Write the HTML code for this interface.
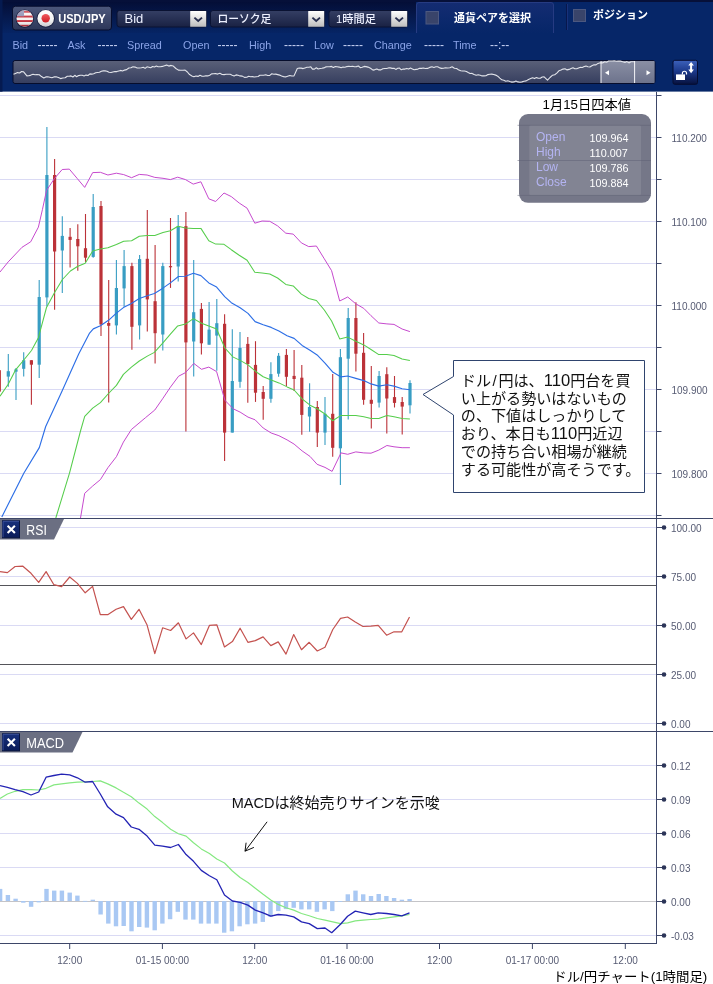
<!DOCTYPE html>
<html lang="ja"><head><meta charset="utf-8"><title>ドル/円チャート(1時間足)</title>
<style>
html,body{margin:0;padding:0;background:#fff;}
body{width:713px;height:984px;overflow:hidden;position:relative;font-family:"Liberation Sans","Noto Sans CJK JP",sans-serif;}
svg{position:absolute;left:0;top:0;display:block;}
text{font-family:"Liberation Sans","Noto Sans CJK JP",sans-serif;}
.ax{font-size:10px;fill:#565b73;}
.jp{font-family:"Liberation Sans","Noto Sans CJK JP",sans-serif;}
</style></head><body>
<svg width="713" height="984" viewBox="0 0 713 984">
<defs>
<linearGradient id="hdr" x1="0" y1="0" x2="0" y2="1"><stop offset="0" stop-color="#040d34"/><stop offset="1" stop-color="#062464"/></linearGradient>
<linearGradient id="btn" x1="0" y1="0" x2="0" y2="1"><stop offset="0" stop-color="#4d587c"/><stop offset="1" stop-color="#2d3759"/></linearGradient>
<linearGradient id="sel" x1="0" y1="0" x2="0" y2="1"><stop offset="0" stop-color="#353f64"/><stop offset="1" stop-color="#192143"/></linearGradient>
<linearGradient id="arr" x1="0" y1="0" x2="0" y2="1"><stop offset="0" stop-color="#ffffff"/><stop offset="1" stop-color="#bdbdbd"/></linearGradient>
<linearGradient id="nav" x1="0" y1="0" x2="0" y2="1"><stop offset="0" stop-color="#5a6079"/><stop offset="1" stop-color="#363e5f"/></linearGradient>
<linearGradient id="navs" x1="0" y1="0" x2="0" y2="1"><stop offset="0" stop-color="#8a8fa4"/><stop offset="1" stop-color="#6d738c"/></linearGradient>
<linearGradient id="lock" x1="0" y1="0" x2="0" y2="1"><stop offset="0" stop-color="#3c61bb"/><stop offset="0.45" stop-color="#1d3a8c"/><stop offset="1" stop-color="#06113e"/></linearGradient>
<linearGradient id="xb" x1="0" y1="0" x2="0" y2="1"><stop offset="0" stop-color="#17307c"/><stop offset="1" stop-color="#0a1b58"/></linearGradient>
<linearGradient id="tab" x1="0" y1="0" x2="0" y2="1"><stop offset="0" stop-color="#142c72"/><stop offset="1" stop-color="#062668"/></linearGradient>
<clipPath id="usc"><circle cx="24.8" cy="18.5" r="8.3"/></clipPath>
<linearGradient id="gloss" x1="0" y1="0" x2="0" y2="1"><stop offset="0" stop-color="#ffffff" stop-opacity="0.25"/><stop offset="0.5" stop-color="#ffffff" stop-opacity="0"/><stop offset="1" stop-color="#000000" stop-opacity="0.22"/></linearGradient>
<linearGradient id="jpw" x1="0" y1="0" x2="0" y2="1"><stop offset="0" stop-color="#ffffff"/><stop offset="0.6" stop-color="#f2f2f2"/><stop offset="1" stop-color="#c9c9cf"/></linearGradient>
<linearGradient id="jpr" x1="0" y1="0" x2="0" y2="1"><stop offset="0" stop-color="#f0595c"/><stop offset="1" stop-color="#cf1d26"/></linearGradient>
<clipPath id="main"><rect x="0" y="92" width="656.5" height="426.5"/></clipPath>
</defs>
<rect x="0" y="0" width="713" height="91.6" fill="#062668"/>
<rect x="0" y="0" width="416" height="33" fill="url(#hdr)"/>
<rect x="0" y="0" width="713" height="2" fill="#061039"/>
<rect x="0" y="0" width="2.5" height="91.6" fill="#051a50"/>
<rect x="12.5" y="6.2" width="99" height="23.8" rx="3" fill="url(#btn)" stroke="#060d2c" stroke-width="1"/>
<circle cx="24.8" cy="18.7" r="9.2" fill="#1b2243"/>
<g clip-path="url(#usc)"><rect x="16" y="10" width="18" height="18" fill="#f6f2f2"/>
<rect x="16" y="10.8" width="18" height="1.9" fill="#c52f3c"/>
<rect x="16" y="15.6" width="18" height="1.9" fill="#c52f3c"/>
<rect x="16" y="20.1" width="18" height="1.9" fill="#c52f3c"/>
<rect x="16" y="24.8" width="18" height="1.9" fill="#c52f3c"/>
<rect x="16" y="10" width="8" height="6.3" fill="#8f90b4"/>
<rect x="16" y="10" width="18" height="18" fill="url(#gloss)"/></g>
<circle cx="45.7" cy="18.6" r="9.2" fill="#1b2243"/>
<circle cx="45.7" cy="18.4" r="8.3" fill="url(#jpw)"/>
<circle cx="45.7" cy="18.3" r="4.2" fill="url(#jpr)"/>
<text x="58.2" y="22.6" font-size="12" font-weight="bold" fill="#ffffff" textLength="47.5" lengthAdjust="spacingAndGlyphs">USD/JPY</text>
<rect x="117.0" y="10.5" width="89.5" height="16.5" rx="2.5" fill="url(#sel)" stroke="#0a1232" stroke-width="1"/>
<rect x="190.2" y="11" width="16" height="15.8" rx="0.5" fill="url(#arr)"/>
<path d="M194.4 17.6 L198.2 21 L202.0 17.6" fill="none" stroke="#262d4e" stroke-width="1.9"/>
<text x="124.5" y="23.2" font-size="13" font-weight="500" fill="#eef1ff">Bid</text>
<rect x="210.5" y="10.5" width="114.0" height="16.5" rx="2.5" fill="url(#sel)" stroke="#0a1232" stroke-width="1"/>
<rect x="308.2" y="11" width="16" height="15.8" rx="0.5" fill="url(#arr)"/>
<path d="M312.4 17.6 L316.2 21 L320.0 17.6" fill="none" stroke="#262d4e" stroke-width="1.9"/>
<text x="217.4" y="23.2" font-size="11.5" font-weight="500" fill="#eef1ff" textLength="54" lengthAdjust="spacingAndGlyphs">ローソク足</text>
<rect x="329.0" y="10.5" width="78.5" height="16.5" rx="2.5" fill="url(#sel)" stroke="#0a1232" stroke-width="1"/>
<rect x="391.2" y="11" width="16" height="15.8" rx="0.5" fill="url(#arr)"/>
<path d="M395.4 17.6 L399.2 21 L403.0 17.6" fill="none" stroke="#262d4e" stroke-width="1.9"/>
<text x="336.0" y="23.2" font-size="11.5" font-weight="500" fill="#eef1ff" textLength="40" lengthAdjust="spacingAndGlyphs">1時間足</text>
<path d="M416.5 33 V5 Q416.5 2.5 419 2.5 H551 Q553.5 2.5 553.5 5 V33" fill="url(#tab)" stroke="#263b82" stroke-width="1"/>
<rect x="426" y="11.5" width="12.5" height="12.5" fill="#39446a" stroke="#4c5880" stroke-width="1"/>
<text x="454" y="22" font-size="11" font-weight="bold" fill="#ffffff" textLength="77" lengthAdjust="spacingAndGlyphs">通貨ペアを選択</text>
<line x1="566.5" y1="4" x2="566.5" y2="30" stroke="#07174c" stroke-width="1"/>
<line x1="567.5" y1="4" x2="567.5" y2="30" stroke="#18317a" stroke-width="1"/>
<rect x="573.5" y="9.5" width="12" height="12" fill="#39446a" stroke="#4c5880" stroke-width="1"/>
<text x="593" y="19" font-size="11" font-weight="bold" fill="#ffffff" textLength="55" lengthAdjust="spacingAndGlyphs">ポジション</text>
<text x="12.5" y="49" font-size="10.8" fill="#8ba4e8">Bid</text>
<text x="37.5" y="49" font-size="12" fill="#cdd7f8">-----</text>
<text x="67.5" y="49" font-size="10.8" fill="#8ba4e8">Ask</text>
<text x="97.5" y="49" font-size="12" fill="#cdd7f8">-----</text>
<text x="127.0" y="49" font-size="10.8" fill="#8ba4e8">Spread</text>
<text x="183.0" y="49" font-size="10.8" fill="#8ba4e8">Open</text>
<text x="217.5" y="49" font-size="12" fill="#cdd7f8">-----</text>
<text x="249.0" y="49" font-size="10.8" fill="#8ba4e8">High</text>
<text x="284.0" y="49" font-size="12" fill="#cdd7f8">-----</text>
<text x="314.0" y="49" font-size="10.8" fill="#8ba4e8">Low</text>
<text x="343.0" y="49" font-size="12" fill="#cdd7f8">-----</text>
<text x="374.0" y="49" font-size="10.8" fill="#8ba4e8">Change</text>
<text x="424.0" y="49" font-size="12" fill="#cdd7f8">-----</text>
<text x="453.0" y="49" font-size="10.8" fill="#8ba4e8">Time</text>
<text x="490.0" y="49" font-size="12" fill="#cdd7f8">--:--</text>
<rect x="13" y="60.5" width="642" height="23" rx="2" fill="url(#nav)" stroke="#060d2c" stroke-width="1"/>
<rect x="601" y="61" width="53.5" height="22" fill="url(#navs)"/>
<polyline points="13.5,74.2 15.5,73.4 17.5,72.6 19.6,73.0 21.6,71.5 23.6,71.8 26.9,75.9 28.9,75.7 30.9,75.1 33.0,74.3 35.0,74.8 37.0,74.5 39.3,74.8 41.5,76.6 43.8,77.9 45.8,76.9 47.8,76.8 49.9,77.2 51.9,77.7 53.9,76.9 56.1,76.8 58.4,77.5 60.6,78.6 62.8,78.0 65.1,77.8 67.3,76.2 69.2,76.3 71.0,75.9 72.9,77.0 74.8,75.3 76.6,76.7 78.5,75.6 80.4,75.3 82.2,75.2 84.1,75.9 86.0,75.1 88.0,75.5 89.9,73.9 91.8,74.1 93.7,73.7 95.7,72.8 97.6,72.5 99.5,72.3 101.4,71.2 103.2,70.9 105.1,70.9 107.0,71.2 109.0,72.2 111.0,72.5 112.9,72.0 114.9,71.5 116.8,71.6 118.7,71.0 120.6,70.4 122.6,71.0 124.5,70.1 126.6,69.6 128.8,68.0 130.9,67.8 133.0,66.8 135.1,67.1 137.2,68.0 139.3,68.0 141.4,67.8 143.3,67.3 145.1,68.4 147.0,66.8 148.9,67.2 150.7,67.7 152.6,66.5 154.5,67.0 156.3,66.1 158.2,66.8 160.3,66.7 162.4,66.4 164.5,65.7 166.6,65.1 168.8,66.1 171.1,65.4 173.3,66.1 175.9,68.5 178.4,70.1 180.6,70.3 182.9,70.2 185.1,70.1 187.4,72.0 189.6,74.6 191.9,75.9 193.9,76.8 195.9,76.0 198.0,76.4 200.0,75.3 202.0,76.2 203.9,76.2 205.8,75.7 207.7,75.9 209.7,75.2 211.6,73.9 213.5,73.7 215.4,73.5 217.6,74.1 219.9,73.3 222.1,74.5 224.1,74.6 226.1,74.2 228.2,74.2 230.2,74.3 232.2,75.2 234.1,75.9 236.1,74.9 238.1,75.3 240.0,75.9 242.3,76.1 244.5,77.4 246.8,77.2 248.7,76.2 250.6,76.7 252.4,76.6 254.3,77.0 256.2,76.7 258.1,76.5 259.9,75.2 261.8,75.3 263.7,75.2 265.7,74.7 267.7,75.5 269.8,75.4 271.8,73.8 273.8,74.2 275.8,74.1 277.7,74.6 279.6,75.1 281.6,76.0 283.6,76.6 285.5,76.9 287.6,76.2 289.8,75.5 291.9,76.0 294.0,75.9 297.3,68.5 299.2,68.0 301.2,68.1 303.1,68.6 305.0,67.9 306.9,67.3 308.9,67.3 310.8,66.8 312.5,69.1 314.4,69.1 316.3,67.7 318.2,69.0 320.1,68.5 321.9,68.3 323.8,67.9 325.7,66.9 327.6,66.8 329.5,66.8 331.5,66.4 333.4,67.5 335.3,66.6 337.2,66.7 339.2,67.1 341.1,67.8 343.0,67.0 344.9,67.2 346.8,66.6 348.8,66.3 350.7,66.5 352.6,66.2 354.5,66.8 356.4,66.6 358.4,66.0 360.3,67.6 362.2,67.2 364.1,66.4 366.1,66.6 368.0,67.1 370.5,68.3 373.0,70.1 375.0,69.6 376.9,68.9 378.9,69.9 380.9,69.9 382.8,68.7 384.8,68.5 386.6,68.5 388.5,67.9 390.3,67.9 392.1,68.4 394.0,68.3 395.8,69.4 397.7,68.3 399.5,68.1 401.3,69.8 403.2,69.1 405.0,69.1 406.8,68.4 408.7,69.1 410.5,68.1 412.3,68.9 414.2,69.7 416.0,69.4 417.9,69.1 419.7,68.2 421.5,68.4 423.4,68.0 425.2,68.5 427.5,68.4 429.7,67.4 432.0,66.8 433.9,67.4 435.8,66.8 437.7,66.7 439.7,67.9 441.6,68.4 443.5,68.3 445.4,67.8 447.6,68.0 449.9,67.7 452.1,66.8 454.4,68.3 456.6,68.5 458.9,70.1 460.8,70.7 462.6,71.0 464.5,71.0 466.4,71.5 468.2,72.5 470.1,73.5 472.1,73.4 474.1,74.5 476.2,75.3 478.2,74.8 480.2,75.2 482.1,75.9 484.1,75.9 486.0,75.7 487.9,74.6 489.8,74.2 491.8,74.1 493.7,74.5 495.7,75.1 497.7,76.2 499.8,78.1 501.8,79.8 503.8,80.2 505.8,81.2 507.8,80.8 509.9,81.5 511.9,82.1 513.9,81.9 515.9,81.0 517.9,81.9 520.0,82.3 522.0,81.9 524.0,81.3 526.2,80.9 528.5,79.5 530.7,78.6 532.6,77.8 534.5,78.6 536.4,77.6 538.4,78.2 540.3,78.2 542.2,77.0 544.1,76.9 547.5,80.2 550.0,77.5 552.6,75.2 554.7,74.7 556.8,73.1 558.9,70.8 561.0,70.1 563.0,69.1 565.0,68.8 567.1,69.9 569.1,69.4 571.1,68.5 573.0,67.7 574.8,68.7 576.7,68.8 578.6,68.0 580.4,67.3 582.3,67.5 584.2,66.5 586.0,66.1 587.9,66.8 589.9,67.0 591.9,65.7 594.0,64.8 596.0,64.9 598.0,63.4 600.2,62.7 602.5,62.9 604.7,61.7 606.6,62.2 608.6,61.0 610.5,61.0 612.4,61.0 614.3,60.8 616.3,61.3 618.2,61.1 620.4,61.1 622.7,61.8 624.9,62.4 626.9,61.6 628.9,62.9 631.0,61.7 633.0,61.8 635.0,61.7" fill="none" stroke="#e2e4ea" stroke-width="1.1" stroke-linejoin="round"/>
<line x1="601" y1="61" x2="601" y2="83" stroke="#f4f4f8" stroke-width="1"/>
<line x1="634.6" y1="61" x2="634.6" y2="83" stroke="#f4f4f8" stroke-width="1"/>
<path d="M605 72.8 L609 70.3 V75.3 Z" fill="#ffffff"/>
<path d="M650.5 72.8 L646.5 70.3 V75.3 Z" fill="#ffffff"/>
<rect x="673" y="60.3" width="24.5" height="24" rx="1.8" fill="url(#lock)" stroke="#050c30" stroke-width="1"/>
<rect x="676" y="74.4" width="9" height="5.6" fill="#ffffff"/>
<path d="M682.4 74.6 V73.3 A2.05 2.05 0 0 1 686.5 73.3 V74.6" fill="none" stroke="#ffffff" stroke-width="1.2"/>
<path d="M691.1 62 L693.9 65.6 H692.1 V69.6 H693.9 L691.1 73.2 L688.3 69.6 H690.1 V65.6 H688.3 Z" fill="#ffffff"/>
<line x1="0" y1="95.5" x2="656" y2="95.5" stroke="#dadaf4" stroke-width="1"/>
<line x1="0" y1="137.5" x2="656" y2="137.5" stroke="#dadaf4" stroke-width="1"/>
<line x1="0" y1="179.5" x2="656" y2="179.5" stroke="#dadaf4" stroke-width="1"/>
<line x1="0" y1="221.5" x2="656" y2="221.5" stroke="#dadaf4" stroke-width="1"/>
<line x1="0" y1="263.5" x2="656" y2="263.5" stroke="#dadaf4" stroke-width="1"/>
<line x1="0" y1="305.5" x2="656" y2="305.5" stroke="#dadaf4" stroke-width="1"/>
<line x1="0" y1="347.5" x2="656" y2="347.5" stroke="#dadaf4" stroke-width="1"/>
<line x1="0" y1="389.5" x2="656" y2="389.5" stroke="#dadaf4" stroke-width="1"/>
<line x1="0" y1="431.5" x2="656" y2="431.5" stroke="#dadaf4" stroke-width="1"/>
<line x1="0" y1="473.5" x2="656" y2="473.5" stroke="#dadaf4" stroke-width="1"/>
<line x1="0" y1="515.5" x2="656" y2="515.5" stroke="#dadaf4" stroke-width="1"/>
<line x1="0" y1="527.5" x2="656" y2="527.5" stroke="#dadaf4" stroke-width="1"/>
<line x1="0" y1="576.5" x2="656" y2="576.5" stroke="#dadaf4" stroke-width="1"/>
<line x1="0" y1="625.5" x2="656" y2="625.5" stroke="#dadaf4" stroke-width="1"/>
<line x1="0" y1="674.5" x2="656" y2="674.5" stroke="#dadaf4" stroke-width="1"/>
<line x1="0" y1="723.5" x2="656" y2="723.5" stroke="#dadaf4" stroke-width="1"/>
<line x1="0" y1="765.5" x2="656" y2="765.5" stroke="#dadaf4" stroke-width="1"/>
<line x1="0" y1="799.5" x2="656" y2="799.5" stroke="#dadaf4" stroke-width="1"/>
<line x1="0" y1="833.5" x2="656" y2="833.5" stroke="#dadaf4" stroke-width="1"/>
<line x1="0" y1="867.5" x2="656" y2="867.5" stroke="#dadaf4" stroke-width="1"/>
<line x1="0" y1="935.5" x2="656" y2="935.5" stroke="#dadaf4" stroke-width="1"/>
<line x1="0" y1="901.5" x2="656" y2="901.5" stroke="#c4c4c8" stroke-width="1"/>
<g clip-path="url(#main)">
<line x1="-0.7" y1="366.0" x2="-0.7" y2="395.0" stroke="#bb3238" stroke-width="1.1"/>
<rect x="-2.3" y="370.2" width="3.2" height="21.4" fill="#bb3238"/>
<line x1="8.3" y1="354.1" x2="8.3" y2="386.7" stroke="#389dc3" stroke-width="1.1"/>
<rect x="6.7" y="371.2" width="3.2" height="5.4" fill="#389dc3"/>
<line x1="16.0" y1="367.9" x2="16.0" y2="399.9" stroke="#389dc3" stroke-width="1.1"/>
<rect x="14.4" y="369.3" width="3.2" height="2.4" fill="#389dc3"/>
<line x1="23.7" y1="352.3" x2="23.7" y2="376.6" stroke="#389dc3" stroke-width="1.1"/>
<rect x="22.1" y="360.2" width="3.2" height="8.6" fill="#389dc3"/>
<line x1="31.4" y1="360.2" x2="31.4" y2="404.8" stroke="#bb3238" stroke-width="1.1"/>
<rect x="29.8" y="360.2" width="3.2" height="4.5" fill="#bb3238"/>
<line x1="39.2" y1="280.0" x2="39.2" y2="377.9" stroke="#389dc3" stroke-width="1.1"/>
<rect x="37.6" y="297.0" width="3.2" height="67.7" fill="#389dc3"/>
<line x1="46.9" y1="127.1" x2="46.9" y2="306.6" stroke="#389dc3" stroke-width="1.1"/>
<rect x="45.3" y="175.0" width="3.2" height="122.4" fill="#389dc3"/>
<line x1="54.6" y1="159.1" x2="54.6" y2="309.7" stroke="#bb3238" stroke-width="1.1"/>
<rect x="53.0" y="175.0" width="3.2" height="76.5" fill="#bb3238"/>
<line x1="62.3" y1="216.2" x2="62.3" y2="292.9" stroke="#389dc3" stroke-width="1.1"/>
<rect x="60.7" y="235.9" width="3.2" height="14.6" fill="#389dc3"/>
<line x1="70.1" y1="228.0" x2="70.1" y2="267.4" stroke="#bb3238" stroke-width="1.1"/>
<rect x="68.5" y="236.8" width="3.2" height="3.1" fill="#bb3238"/>
<line x1="77.8" y1="224.2" x2="77.8" y2="270.7" stroke="#bb3238" stroke-width="1.1"/>
<rect x="76.2" y="239.0" width="3.2" height="7.3" fill="#bb3238"/>
<line x1="85.5" y1="214.1" x2="85.5" y2="261.9" stroke="#bb3238" stroke-width="1.1"/>
<rect x="83.9" y="248.2" width="3.2" height="9.5" fill="#bb3238"/>
<line x1="93.2" y1="194.0" x2="93.2" y2="257.7" stroke="#389dc3" stroke-width="1.1"/>
<rect x="91.6" y="207.0" width="3.2" height="49.9" fill="#389dc3"/>
<line x1="101.0" y1="201.0" x2="101.0" y2="335.9" stroke="#bb3238" stroke-width="1.1"/>
<rect x="99.4" y="206.0" width="3.2" height="118.5" fill="#bb3238"/>
<line x1="108.7" y1="280.0" x2="108.7" y2="402.6" stroke="#bb3238" stroke-width="1.1"/>
<rect x="107.1" y="323.0" width="3.2" height="2.8" fill="#bb3238"/>
<line x1="116.4" y1="260.0" x2="116.4" y2="334.5" stroke="#389dc3" stroke-width="1.1"/>
<rect x="114.8" y="288.0" width="3.2" height="37.4" fill="#389dc3"/>
<line x1="124.1" y1="250.0" x2="124.1" y2="306.7" stroke="#389dc3" stroke-width="1.1"/>
<rect x="122.5" y="266.1" width="3.2" height="22.3" fill="#389dc3"/>
<line x1="131.9" y1="262.8" x2="131.9" y2="349.7" stroke="#bb3238" stroke-width="1.1"/>
<rect x="130.3" y="266.1" width="3.2" height="60.7" fill="#bb3238"/>
<line x1="139.6" y1="255.1" x2="139.6" y2="339.6" stroke="#389dc3" stroke-width="1.1"/>
<rect x="138.0" y="259.1" width="3.2" height="66.3" fill="#389dc3"/>
<line x1="147.3" y1="210.1" x2="147.3" y2="331.4" stroke="#bb3238" stroke-width="1.1"/>
<rect x="145.7" y="258.8" width="3.2" height="40.6" fill="#bb3238"/>
<line x1="155.1" y1="245.0" x2="155.1" y2="363.4" stroke="#bb3238" stroke-width="1.1"/>
<rect x="153.5" y="301.2" width="3.2" height="32.0" fill="#bb3238"/>
<line x1="162.8" y1="262.8" x2="162.8" y2="350.6" stroke="#389dc3" stroke-width="1.1"/>
<rect x="161.2" y="266.1" width="3.2" height="68.4" fill="#389dc3"/>
<line x1="170.5" y1="218.0" x2="170.5" y2="287.9" stroke="#bb3238" stroke-width="1.1"/>
<rect x="168.9" y="266.1" width="3.2" height="1.2" fill="#bb3238"/>
<line x1="178.2" y1="214.9" x2="178.2" y2="281.5" stroke="#389dc3" stroke-width="1.1"/>
<rect x="176.6" y="226.2" width="3.2" height="40.3" fill="#389dc3"/>
<line x1="185.9" y1="212.0" x2="185.9" y2="431.5" stroke="#bb3238" stroke-width="1.1"/>
<rect x="184.3" y="226.2" width="3.2" height="116.2" fill="#bb3238"/>
<line x1="193.7" y1="260.0" x2="193.7" y2="376.6" stroke="#389dc3" stroke-width="1.1"/>
<rect x="192.1" y="312.2" width="3.2" height="29.3" fill="#389dc3"/>
<line x1="201.4" y1="303.0" x2="201.4" y2="354.6" stroke="#bb3238" stroke-width="1.1"/>
<rect x="199.8" y="308.9" width="3.2" height="34.4" fill="#bb3238"/>
<line x1="209.1" y1="302.1" x2="209.1" y2="344.7" stroke="#389dc3" stroke-width="1.1"/>
<rect x="207.5" y="329.6" width="3.2" height="15.1" fill="#389dc3"/>
<line x1="216.8" y1="299.0" x2="216.8" y2="370.7" stroke="#389dc3" stroke-width="1.1"/>
<rect x="215.2" y="323.2" width="3.2" height="12.4" fill="#389dc3"/>
<line x1="224.6" y1="314.3" x2="224.6" y2="461.0" stroke="#bb3238" stroke-width="1.1"/>
<rect x="223.0" y="323.8" width="3.2" height="108.8" fill="#bb3238"/>
<line x1="232.3" y1="329.3" x2="232.3" y2="432.6" stroke="#389dc3" stroke-width="1.1"/>
<rect x="230.7" y="381.0" width="3.2" height="51.6" fill="#389dc3"/>
<line x1="240.0" y1="332.0" x2="240.0" y2="387.8" stroke="#389dc3" stroke-width="1.1"/>
<rect x="238.4" y="347.9" width="3.2" height="33.9" fill="#389dc3"/>
<line x1="247.8" y1="337.1" x2="247.8" y2="402.8" stroke="#bb3238" stroke-width="1.1"/>
<rect x="246.2" y="343.9" width="3.2" height="20.1" fill="#bb3238"/>
<line x1="255.5" y1="341.2" x2="255.5" y2="401.9" stroke="#bb3238" stroke-width="1.1"/>
<rect x="253.9" y="364.9" width="3.2" height="27.8" fill="#bb3238"/>
<line x1="263.2" y1="386.0" x2="263.2" y2="419.8" stroke="#bb3238" stroke-width="1.1"/>
<rect x="261.6" y="392.0" width="3.2" height="6.8" fill="#bb3238"/>
<line x1="270.9" y1="362.2" x2="270.9" y2="402.8" stroke="#389dc3" stroke-width="1.1"/>
<rect x="269.3" y="374.1" width="3.2" height="24.7" fill="#389dc3"/>
<line x1="278.6" y1="353.0" x2="278.6" y2="376.8" stroke="#389dc3" stroke-width="1.1"/>
<rect x="277.0" y="355.8" width="3.2" height="17.9" fill="#389dc3"/>
<line x1="286.4" y1="349.0" x2="286.4" y2="386.0" stroke="#bb3238" stroke-width="1.1"/>
<rect x="284.8" y="354.9" width="3.2" height="21.9" fill="#bb3238"/>
<line x1="294.1" y1="349.9" x2="294.1" y2="390.9" stroke="#bb3238" stroke-width="1.1"/>
<rect x="292.5" y="375.9" width="3.2" height="3.1" fill="#bb3238"/>
<line x1="301.8" y1="364.9" x2="301.8" y2="434.8" stroke="#bb3238" stroke-width="1.1"/>
<rect x="300.2" y="377.7" width="3.2" height="37.2" fill="#bb3238"/>
<line x1="309.6" y1="383.2" x2="309.6" y2="431.7" stroke="#389dc3" stroke-width="1.1"/>
<rect x="307.9" y="407.0" width="3.2" height="9.5" fill="#389dc3"/>
<line x1="317.3" y1="401.0" x2="317.3" y2="446.9" stroke="#bb3238" stroke-width="1.1"/>
<rect x="315.7" y="407.0" width="3.2" height="25.6" fill="#bb3238"/>
<line x1="325.0" y1="396.9" x2="325.0" y2="444.9" stroke="#389dc3" stroke-width="1.1"/>
<rect x="323.4" y="413.8" width="3.2" height="18.8" fill="#389dc3"/>
<line x1="332.7" y1="374.1" x2="332.7" y2="456.8" stroke="#bb3238" stroke-width="1.1"/>
<rect x="331.1" y="413.8" width="3.2" height="34.0" fill="#bb3238"/>
<line x1="340.4" y1="349.1" x2="340.4" y2="485.0" stroke="#389dc3" stroke-width="1.1"/>
<rect x="338.8" y="357.2" width="3.2" height="91.1" fill="#389dc3"/>
<line x1="348.2" y1="308.0" x2="348.2" y2="419.4" stroke="#389dc3" stroke-width="1.1"/>
<rect x="346.6" y="318.0" width="3.2" height="40.7" fill="#389dc3"/>
<line x1="355.9" y1="302.3" x2="355.9" y2="371.5" stroke="#bb3238" stroke-width="1.1"/>
<rect x="354.3" y="318.0" width="3.2" height="35.7" fill="#bb3238"/>
<line x1="363.6" y1="333.0" x2="363.6" y2="404.7" stroke="#bb3238" stroke-width="1.1"/>
<rect x="362.0" y="352.8" width="3.2" height="47.0" fill="#bb3238"/>
<line x1="371.3" y1="366.0" x2="371.3" y2="428.5" stroke="#bb3238" stroke-width="1.1"/>
<rect x="369.7" y="399.8" width="3.2" height="4.0" fill="#bb3238"/>
<line x1="379.1" y1="370.9" x2="379.1" y2="407.5" stroke="#389dc3" stroke-width="1.1"/>
<rect x="377.5" y="376.0" width="3.2" height="26.6" fill="#389dc3"/>
<line x1="386.8" y1="367.2" x2="386.8" y2="433.6" stroke="#bb3238" stroke-width="1.1"/>
<rect x="385.2" y="374.2" width="3.2" height="24.3" fill="#bb3238"/>
<line x1="394.5" y1="376.0" x2="394.5" y2="407.5" stroke="#bb3238" stroke-width="1.1"/>
<rect x="392.9" y="397.1" width="3.2" height="5.8" fill="#bb3238"/>
<line x1="402.2" y1="397.1" x2="402.2" y2="434.6" stroke="#bb3238" stroke-width="1.1"/>
<rect x="400.6" y="402.0" width="3.2" height="4.6" fill="#bb3238"/>
<line x1="410.0" y1="380.2" x2="410.0" y2="413.5" stroke="#389dc3" stroke-width="1.1"/>
<rect x="408.4" y="383.0" width="3.2" height="22.3" fill="#389dc3"/>
<polyline points="0.0,272.0 8.2,261.9 22.0,247.3 30.7,241.8 38.4,227.1 42.4,209.7 46.5,190.5 54.3,178.7 62.2,169.5 69.3,169.1 77.4,178.7 84.7,187.4 92.7,172.6 100.4,172.3 107.9,175.0 116.4,173.2 123.7,174.6 131.6,177.7 139.3,174.4 147.1,175.0 154.8,177.4 163.0,178.3 170.4,179.6 177.7,177.2 185.5,179.6 193.2,184.1 200.9,181.8 208.8,198.8 215.7,201.5 224.0,193.0 231.3,196.6 239.2,203.0 247.1,208.2 254.8,223.2 262.1,221.0 269.8,221.3 277.6,225.9 285.8,233.2 293.2,234.1 301.4,242.9 308.7,246.6 316.4,246.0 324.3,258.8 331.6,270.7 339.7,301.0 347.7,297.0 355.8,303.8 363.8,308.4 371.0,315.7 378.8,323.0 386.9,323.9 394.0,324.4 402.1,329.0 409.9,331.6" fill="none" stroke="#c64ace" stroke-width="1" stroke-linejoin="round"/>
<polyline points="80.5,518.0 84.7,493.3 92.7,486.0 100.4,479.6 107.9,467.7 116.4,456.7 123.4,442.1 131.4,429.5 145.7,417.5 154.8,410.0 163.0,398.2 170.4,387.2 178.6,376.2 185.5,372.6 193.8,363.4 201.5,369.3 208.8,367.1 216.6,371.6 224.9,400.3 233.2,408.8 240.1,412.1 248.0,417.1 255.1,419.8 263.2,428.0 271.2,433.0 278.9,435.7 287.1,439.9 294.1,444.1 302.1,450.9 310.0,456.4 317.1,464.3 325.0,467.4 332.1,471.4 341.0,452.9 347.7,454.3 355.8,451.9 363.8,452.9 371.0,453.2 378.8,450.1 386.9,445.5 394.0,446.8 402.1,447.7 409.9,447.7" fill="none" stroke="#c64ace" stroke-width="1" stroke-linejoin="round"/>
<polyline points="0.0,396.2 8.2,384.3 15.4,370.2 23.4,360.5 31.5,350.5 38.4,337.7 46.5,307.5 54.3,292.9 62.4,279.5 70.4,271.0 77.4,266.5 85.2,263.3 92.7,250.9 100.4,249.1 107.9,247.8 116.4,244.5 123.7,241.2 131.6,240.8 139.3,236.3 147.1,235.4 154.8,235.4 163.0,232.6 170.4,230.8 178.0,226.2 185.5,228.0 193.2,228.6 200.9,228.4 208.8,240.8 215.7,244.1 224.0,244.3 231.3,249.7 239.2,255.2 247.1,260.3 254.8,272.2 262.1,272.9 269.8,274.0 277.6,278.0 285.8,284.4 293.2,285.9 301.4,294.1 308.7,298.5 316.4,300.5 324.3,310.0 331.6,321.0 336.2,331.0 339.7,338.9 347.7,337.1 355.8,341.3 363.8,344.9 371.0,349.5 378.8,354.6 386.9,354.4 394.0,355.4 402.1,359.0 409.9,360.5" fill="none" stroke="#55cd4b" stroke-width="1.05" stroke-linejoin="round"/>
<polyline points="55.8,518.0 69.5,473.2 80.5,431.0 84.7,416.4 92.7,408.1 100.4,402.6 108.5,393.5 116.4,385.4 123.4,374.4 131.4,367.1 139.3,361.0 147.3,356.1 154.4,352.4 162.5,343.3 170.4,334.1 177.7,325.9 185.5,324.1 193.4,318.6 201.5,323.2 208.8,325.9 216.6,329.0 224.9,348.0 233.2,357.1 240.1,360.4 248.0,364.9 256.0,371.7 263.2,376.8 271.2,379.9 278.9,382.9 287.1,386.9 294.1,390.0 302.1,398.8 310.0,405.2 317.1,408.8 325.0,414.0 332.6,420.7 341.0,415.4 347.7,415.4 355.8,415.4 363.8,416.8 371.0,418.5 378.8,418.5 386.9,415.4 394.0,416.8 402.1,418.5 409.9,419.0" fill="none" stroke="#55cd4b" stroke-width="1.05" stroke-linejoin="round"/>
<polyline points="1.8,517.0 23.8,473.2 39.3,447.6 45.7,426.5 62.2,390.7 78.7,354.1 89.6,333.1 93.3,328.9 100.4,325.8 108.5,320.3 116.4,313.1 123.4,307.6 131.4,303.4 139.3,298.5 147.3,295.7 154.4,293.5 162.5,288.4 170.4,282.9 178.4,276.5 185.5,276.2 193.4,273.2 200.9,275.6 208.8,282.9 216.6,287.1 224.7,296.6 231.3,302.7 240.1,307.7 248.0,313.4 255.1,321.6 263.2,324.7 271.2,327.4 278.9,331.1 287.1,335.7 294.1,338.4 302.1,345.4 310.0,350.3 317.1,354.9 325.0,363.1 333.0,372.3 341.0,376.9 347.7,376.0 355.8,378.4 363.8,380.6 371.0,383.9 378.8,386.1 386.9,384.8 394.0,386.1 402.1,388.8 409.9,389.7" fill="none" stroke="#2d6fe6" stroke-width="1.15" stroke-linejoin="round"/>
</g>
<rect x="519" y="114" width="132" height="88.8" rx="9" fill="#757788"/>
<rect x="529.3" y="125.3" width="111.7" height="70" rx="1.5" fill="#828493"/>
<line x1="517.5" y1="125.3" x2="651" y2="125.3" stroke="#5e6074" stroke-opacity="0.55" stroke-width="0.9"/>
<line x1="517.5" y1="160.5" x2="651" y2="160.5" stroke="#5e6074" stroke-opacity="0.55" stroke-width="0.9"/>
<line x1="517.5" y1="195.4" x2="651" y2="195.4" stroke="#5e6074" stroke-opacity="0.55" stroke-width="0.9"/>
<text x="536" y="141.3" font-size="12" fill="#b4b4f2">Open</text>
<text x="589.5" y="142.0" font-size="10.8" fill="#ffffff">109.964</text>
<text x="536" y="156.3" font-size="12" fill="#b4b4f2">High</text>
<text x="589.5" y="157.0" font-size="10.8" fill="#ffffff">110.007</text>
<text x="536" y="171.3" font-size="12" fill="#b4b4f2">Low</text>
<text x="589.5" y="172.0" font-size="10.8" fill="#ffffff">109.786</text>
<text x="536" y="186.3" font-size="12" fill="#b4b4f2">Close</text>
<text x="589.5" y="187.0" font-size="10.8" fill="#ffffff">109.884</text>
<text x="542.5" y="108.7" font-size="13" fill="#000000" class="jp" textLength="88.5" lengthAdjust="spacingAndGlyphs">1月15日四本値</text>
<path d="M453.5 360.5 H644.5 V492.5 H453.5 V415 L423 394.5 L453.5 376.5 Z" fill="#ffffff" stroke="#2f446e" stroke-width="1"/>
<text x="460.8" y="385.8" font-size="15.1" fill="#111111" class="jp">ドル<tspan dx="1.6">/</tspan><tspan dx="1.6">円は、<tspan font-size="16.6">110</tspan>円台を買</tspan></text>
<text x="460.8" y="403.6" font-size="15.1" fill="#111111" class="jp">い上がる勢いはないもの</text>
<text x="460.8" y="421.3" font-size="15.1" fill="#111111" class="jp">の、下値はしっかりして</text>
<text x="460.8" y="439.1" font-size="15.1" fill="#111111" class="jp">おり、本日も<tspan font-size="16.6">110</tspan>円近辺</text>
<text x="460.8" y="456.8" font-size="15.1" fill="#111111" class="jp">での持ち合い相場が継続</text>
<text x="460.8" y="474.6" font-size="15.1" fill="#111111" class="jp">する可能性が高そうです。</text>
<line x1="656.5" y1="92" x2="656.5" y2="944" stroke="#3d4668" stroke-width="1"/>
<line x1="0" y1="518.5" x2="713" y2="518.5" stroke="#3d4668" stroke-width="1.2"/>
<line x1="0" y1="731.5" x2="713" y2="731.5" stroke="#3d4668" stroke-width="1.2"/>
<line x1="0" y1="943.5" x2="657" y2="943.5" stroke="#3d4668" stroke-width="1.2"/>
<line x1="657" y1="95.5" x2="661.5" y2="95.5" stroke="#3d4668" stroke-width="1"/>
<line x1="657" y1="137.5" x2="661.5" y2="137.5" stroke="#3d4668" stroke-width="1"/>
<line x1="657" y1="179.5" x2="661.5" y2="179.5" stroke="#3d4668" stroke-width="1"/>
<line x1="657" y1="221.5" x2="661.5" y2="221.5" stroke="#3d4668" stroke-width="1"/>
<line x1="657" y1="263.5" x2="661.5" y2="263.5" stroke="#3d4668" stroke-width="1"/>
<line x1="657" y1="305.5" x2="661.5" y2="305.5" stroke="#3d4668" stroke-width="1"/>
<line x1="657" y1="347.5" x2="661.5" y2="347.5" stroke="#3d4668" stroke-width="1"/>
<line x1="657" y1="389.5" x2="661.5" y2="389.5" stroke="#3d4668" stroke-width="1"/>
<line x1="657" y1="431.5" x2="661.5" y2="431.5" stroke="#3d4668" stroke-width="1"/>
<line x1="657" y1="473.5" x2="661.5" y2="473.5" stroke="#3d4668" stroke-width="1"/>
<line x1="657" y1="515.5" x2="661.5" y2="515.5" stroke="#3d4668" stroke-width="1"/>
<text x="671.5" y="142.2" class="ax">110.200</text>
<text x="671.5" y="226.2" class="ax">110.100</text>
<text x="671.5" y="310.2" class="ax">110.000</text>
<text x="671.5" y="394.2" class="ax">109.900</text>
<text x="671.5" y="478.2" class="ax">109.800</text>
<line x1="657" y1="527.5" x2="664" y2="527.5" stroke="#3d4668" stroke-width="1"/>
<circle cx="664" cy="527.5" r="2.3" fill="#2c3558"/>
<text x="671" y="531.7" class="ax">100.00</text>
<line x1="657" y1="576.5" x2="664" y2="576.5" stroke="#3d4668" stroke-width="1"/>
<circle cx="664" cy="576.5" r="2.3" fill="#2c3558"/>
<text x="671" y="580.7" class="ax">75.00</text>
<line x1="657" y1="625.5" x2="664" y2="625.5" stroke="#3d4668" stroke-width="1"/>
<circle cx="664" cy="625.5" r="2.3" fill="#2c3558"/>
<text x="671" y="629.7" class="ax">50.00</text>
<line x1="657" y1="674.5" x2="664" y2="674.5" stroke="#3d4668" stroke-width="1"/>
<circle cx="664" cy="674.5" r="2.3" fill="#2c3558"/>
<text x="671" y="678.7" class="ax">25.00</text>
<line x1="657" y1="723.5" x2="664" y2="723.5" stroke="#3d4668" stroke-width="1"/>
<circle cx="664" cy="723.5" r="2.3" fill="#2c3558"/>
<text x="671" y="727.7" class="ax">0.00</text>
<line x1="657" y1="765.5" x2="664" y2="765.5" stroke="#3d4668" stroke-width="1"/>
<circle cx="664" cy="765.5" r="2.3" fill="#2c3558"/>
<text x="671" y="769.7" class="ax">0.12</text>
<line x1="657" y1="799.5" x2="664" y2="799.5" stroke="#3d4668" stroke-width="1"/>
<circle cx="664" cy="799.5" r="2.3" fill="#2c3558"/>
<text x="671" y="803.7" class="ax">0.09</text>
<line x1="657" y1="833.5" x2="664" y2="833.5" stroke="#3d4668" stroke-width="1"/>
<circle cx="664" cy="833.5" r="2.3" fill="#2c3558"/>
<text x="671" y="837.7" class="ax">0.06</text>
<line x1="657" y1="867.5" x2="664" y2="867.5" stroke="#3d4668" stroke-width="1"/>
<circle cx="664" cy="867.5" r="2.3" fill="#2c3558"/>
<text x="671" y="871.7" class="ax">0.03</text>
<line x1="657" y1="901.5" x2="664" y2="901.5" stroke="#3d4668" stroke-width="1"/>
<circle cx="664" cy="901.5" r="2.3" fill="#2c3558"/>
<text x="671" y="905.7" class="ax">0.00</text>
<line x1="657" y1="935.5" x2="664" y2="935.5" stroke="#3d4668" stroke-width="1"/>
<circle cx="664" cy="935.5" r="2.3" fill="#2c3558"/>
<text x="671" y="939.7" class="ax">-0.03</text>
<line x1="69.7" y1="943.5" x2="69.7" y2="949" stroke="#3d4668" stroke-width="1"/>
<text x="69.7" y="964.3" class="ax" text-anchor="middle">12:00</text>
<line x1="162.4" y1="943.5" x2="162.4" y2="949" stroke="#3d4668" stroke-width="1"/>
<text x="162.4" y="964.3" class="ax" text-anchor="middle">01-15 00:00</text>
<line x1="254.7" y1="943.5" x2="254.7" y2="949" stroke="#3d4668" stroke-width="1"/>
<text x="254.7" y="964.3" class="ax" text-anchor="middle">12:00</text>
<line x1="347.0" y1="943.5" x2="347.0" y2="949" stroke="#3d4668" stroke-width="1"/>
<text x="347.0" y="964.3" class="ax" text-anchor="middle">01-16 00:00</text>
<line x1="439.5" y1="943.5" x2="439.5" y2="949" stroke="#3d4668" stroke-width="1"/>
<text x="439.5" y="964.3" class="ax" text-anchor="middle">12:00</text>
<line x1="532.4" y1="943.5" x2="532.4" y2="949" stroke="#3d4668" stroke-width="1"/>
<text x="532.4" y="964.3" class="ax" text-anchor="middle">01-17 00:00</text>
<line x1="625.3" y1="943.5" x2="625.3" y2="949" stroke="#3d4668" stroke-width="1"/>
<text x="625.3" y="964.3" class="ax" text-anchor="middle">12:00</text>
<line x1="0" y1="585.5" x2="656" y2="585.5" stroke="#55555a" stroke-width="1"/>
<line x1="0" y1="664.5" x2="656" y2="664.5" stroke="#55555a" stroke-width="1"/>
<polyline points="0.0,571.6 7.4,572.6 15.1,566.5 22.9,566.2 31.0,573.3 38.7,582.4 46.1,571.6 53.9,584.7 61.6,586.7 69.7,577.0 77.4,583.4 85.2,592.8 92.6,586.4 100.3,614.7 107.7,614.7 116.1,609.3 123.5,606.6 131.3,619.4 139.0,609.3 147.1,625.1 154.8,653.7 162.6,627.8 170.6,630.5 178.4,622.8 186.1,638.9 193.5,632.9 201.3,644.6 209.4,625.4 216.8,624.8 224.5,647.0 232.4,641.6 240.1,628.2 247.9,642.3 255.3,640.6 263.1,636.9 270.8,645.6 278.2,641.9 286.0,654.1 293.7,634.5 301.5,649.7 309.2,642.3 317.3,651.0 325.0,647.3 332.8,629.5 340.5,618.4 347.6,617.0 355.3,622.1 363.0,626.5 370.8,626.1 378.2,625.4 386.6,635.2 394.0,631.8 401.8,631.8 409.5,617.0" fill="none" stroke="#c4524f" stroke-width="1.2" stroke-linejoin="round"/>
<path d="M0 519.0 H64.0 L54.0 539.5 H0 Z" fill="#6b6f82"/>
<rect x="2.5" y="520.8" width="17" height="17" fill="url(#xb)" stroke="#07133f" stroke-width="1"/>
<path d="M3 537.3 V521.3 H19" fill="none" stroke="#3a519c" stroke-width="1"/>
<path d="M7.6 525.7 L14.9 533.0 M14.9 525.7 L7.6 533.0" stroke="#ffffff" stroke-width="2.1"/>
<text x="26.3" y="534.6" font-size="14" fill="#ffffff" textLength="20.5" lengthAdjust="spacingAndGlyphs">RSI</text>
<rect x="-2.1" y="888.9" width="4.4" height="12.1" fill="#a9c8f3"/>
<rect x="5.7" y="895.0" width="4.4" height="6.0" fill="#a9c8f3"/>
<rect x="13.4" y="898.7" width="4.4" height="2.3" fill="#a9c8f3"/>
<rect x="21.1" y="901.0" width="4.4" height="1.7" fill="#a9c8f3"/>
<rect x="28.9" y="901.0" width="4.4" height="5.8" fill="#a9c8f3"/>
<rect x="36.6" y="901.0" width="4.4" height="1.4" fill="#a9c8f3"/>
<rect x="44.3" y="888.9" width="4.4" height="12.1" fill="#a9c8f3"/>
<rect x="52.0" y="890.6" width="4.4" height="10.4" fill="#a9c8f3"/>
<rect x="59.7" y="890.6" width="4.4" height="10.4" fill="#a9c8f3"/>
<rect x="67.5" y="892.6" width="4.4" height="8.4" fill="#a9c8f3"/>
<rect x="75.2" y="895.6" width="4.4" height="5.4" fill="#a9c8f3"/>
<rect x="82.9" y="900.9" width="4.4" height="0.8" fill="#a9c8f3"/>
<rect x="90.6" y="899.7" width="4.4" height="1.3" fill="#a9c8f3"/>
<rect x="98.4" y="901.0" width="4.4" height="13.5" fill="#a9c8f3"/>
<rect x="106.1" y="901.0" width="4.4" height="22.6" fill="#a9c8f3"/>
<rect x="113.8" y="901.0" width="4.4" height="25.3" fill="#a9c8f3"/>
<rect x="121.5" y="901.0" width="4.4" height="25.0" fill="#a9c8f3"/>
<rect x="129.3" y="901.0" width="4.4" height="30.3" fill="#a9c8f3"/>
<rect x="137.0" y="901.0" width="4.4" height="26.0" fill="#a9c8f3"/>
<rect x="144.7" y="901.0" width="4.4" height="26.6" fill="#a9c8f3"/>
<rect x="152.5" y="901.0" width="4.4" height="29.3" fill="#a9c8f3"/>
<rect x="160.2" y="901.0" width="4.4" height="22.6" fill="#a9c8f3"/>
<rect x="167.9" y="901.0" width="4.4" height="18.2" fill="#a9c8f3"/>
<rect x="175.6" y="901.0" width="4.4" height="10.8" fill="#a9c8f3"/>
<rect x="183.3" y="901.0" width="4.4" height="18.6" fill="#a9c8f3"/>
<rect x="191.1" y="901.0" width="4.4" height="18.6" fill="#a9c8f3"/>
<rect x="198.8" y="901.0" width="4.4" height="22.6" fill="#a9c8f3"/>
<rect x="206.5" y="901.0" width="4.4" height="22.6" fill="#a9c8f3"/>
<rect x="214.2" y="901.0" width="4.4" height="22.6" fill="#a9c8f3"/>
<rect x="222.0" y="901.0" width="4.4" height="31.7" fill="#a9c8f3"/>
<rect x="229.7" y="901.0" width="4.4" height="30.3" fill="#a9c8f3"/>
<rect x="237.4" y="901.0" width="4.4" height="25.3" fill="#a9c8f3"/>
<rect x="245.2" y="901.0" width="4.4" height="23.3" fill="#a9c8f3"/>
<rect x="252.9" y="901.0" width="4.4" height="22.6" fill="#a9c8f3"/>
<rect x="260.6" y="901.0" width="4.4" height="20.9" fill="#a9c8f3"/>
<rect x="268.3" y="901.0" width="4.4" height="15.9" fill="#a9c8f3"/>
<rect x="276.1" y="901.0" width="4.4" height="10.1" fill="#a9c8f3"/>
<rect x="283.8" y="901.0" width="4.4" height="8.1" fill="#a9c8f3"/>
<rect x="291.5" y="901.0" width="4.4" height="6.8" fill="#a9c8f3"/>
<rect x="299.2" y="901.0" width="4.4" height="8.4" fill="#a9c8f3"/>
<rect x="307.0" y="901.0" width="4.4" height="8.4" fill="#a9c8f3"/>
<rect x="314.7" y="901.0" width="4.4" height="10.8" fill="#a9c8f3"/>
<rect x="322.4" y="901.0" width="4.4" height="8.4" fill="#a9c8f3"/>
<rect x="330.1" y="901.0" width="4.4" height="10.1" fill="#a9c8f3"/>
<rect x="337.9" y="901.0" width="4.4" height="0.8" fill="#a9c8f3"/>
<rect x="345.6" y="894.3" width="4.4" height="6.7" fill="#a9c8f3"/>
<rect x="353.3" y="890.6" width="4.4" height="10.4" fill="#a9c8f3"/>
<rect x="361.0" y="894.3" width="4.4" height="6.7" fill="#a9c8f3"/>
<rect x="368.8" y="896.0" width="4.4" height="5.0" fill="#a9c8f3"/>
<rect x="376.5" y="894.0" width="4.4" height="7.0" fill="#a9c8f3"/>
<rect x="384.2" y="896.0" width="4.4" height="5.0" fill="#a9c8f3"/>
<rect x="391.9" y="898.0" width="4.4" height="3.0" fill="#a9c8f3"/>
<rect x="399.7" y="899.7" width="4.4" height="1.3" fill="#a9c8f3"/>
<rect x="407.4" y="899.0" width="4.4" height="2.0" fill="#a9c8f3"/>
<polyline points="0.0,798.4 7.4,794.0 15.1,791.3 22.9,789.6 31.0,789.6 38.7,790.0 46.1,788.3 53.9,784.9 61.6,783.9 69.7,782.9 77.4,782.2 85.2,781.9 92.6,781.5 100.3,780.9 107.7,783.9 116.1,787.9 123.5,792.3 131.3,796.7 139.0,803.1 147.1,809.1 154.8,816.6 162.6,822.6 170.6,829.3 178.4,833.7 186.1,836.1 193.5,842.8 201.3,848.9 209.4,853.6 216.8,859.0 224.5,863.0 232.4,871.0 240.1,877.5 247.9,882.5 255.3,888.2 263.1,894.3 270.8,900.0 278.2,904.4 286.0,907.8 293.7,910.1 301.5,913.5 309.2,915.8 317.3,918.5 325.0,920.2 332.8,921.9 340.5,923.6 347.6,922.9 355.3,920.9 363.0,920.2 370.8,919.5 378.2,919.2 386.6,917.9 394.0,916.9 401.8,915.8 409.5,914.5" fill="none" stroke="#85e880" stroke-width="1.2" stroke-linejoin="round"/>
<polyline points="0.0,785.6 7.4,787.3 15.1,789.6 22.9,791.6 31.0,795.0 38.7,792.0 46.1,777.2 53.9,775.5 61.6,774.1 69.7,774.8 77.4,777.8 85.2,782.2 92.6,781.5 100.3,794.0 107.7,806.8 116.1,814.2 123.5,817.6 131.3,827.0 139.0,829.3 147.1,836.1 154.8,845.2 162.6,846.2 170.6,847.5 178.4,844.5 186.1,854.6 193.5,861.3 201.3,870.4 209.4,875.8 216.8,879.8 224.5,895.0 232.4,901.0 240.1,902.4 247.9,905.1 255.3,910.1 263.1,912.8 270.8,916.2 278.2,914.5 286.0,915.2 293.7,916.9 301.5,921.9 309.2,923.6 317.3,928.6 325.0,928.0 331.7,932.7 340.5,924.3 347.6,916.2 355.3,911.1 363.0,912.8 370.8,914.5 378.2,912.8 386.6,913.5 394.0,914.5 401.8,915.8 409.5,912.8" fill="none" stroke="#2323b4" stroke-width="1.3" stroke-linejoin="round"/>
<path d="M0 732.0 H82.5 L72.5 752.5 H0 Z" fill="#6b6f82"/>
<rect x="2.5" y="733.8" width="17" height="17" fill="url(#xb)" stroke="#07133f" stroke-width="1"/>
<path d="M3 750.3 V734.3 H19" fill="none" stroke="#3a519c" stroke-width="1"/>
<path d="M7.6 738.7 L14.9 746.0 M14.9 738.7 L7.6 746.0" stroke="#ffffff" stroke-width="2.1"/>
<text x="26.3" y="747.6" font-size="14" fill="#ffffff" textLength="37.8" lengthAdjust="spacingAndGlyphs">MACD</text>
<text x="231.7" y="807.6" font-size="15.05" fill="#111111" class="jp"><tspan font-size="14.5">MACD</tspan>は終始売りサインを示唆</text>
<path d="M267.1 821.8 L245 851.2 M246.1 842.7 L245 851.2 L253.9 847.4" fill="none" stroke="#111111" stroke-width="1"/>
<text x="553.3" y="981" font-size="13" fill="#000000" class="jp" textLength="154" lengthAdjust="spacingAndGlyphs">ドル/円チャート(1時間足)</text>
</svg></body></html>
